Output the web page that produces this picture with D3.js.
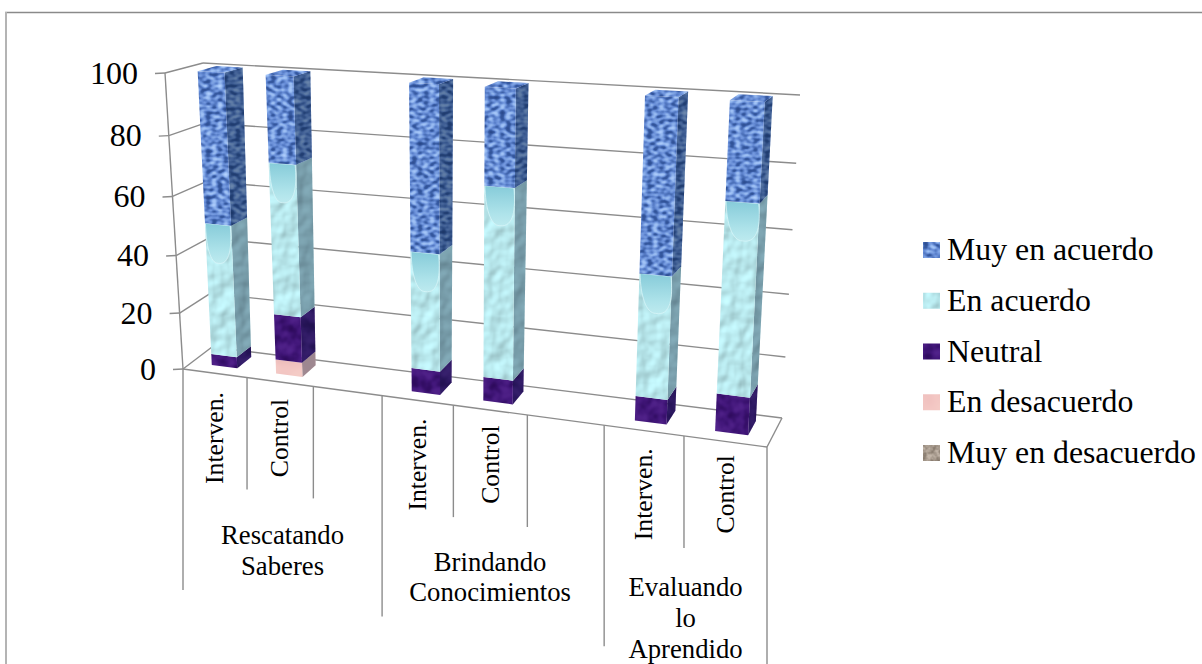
<!DOCTYPE html>
<html>
<head>
<meta charset="utf-8">
<script src="https://cdn.jsdelivr.net/npm/d3@7"></script>
<style>
  html, body { margin: 0; background: #fff; }
  svg { display: block; }
  text { font-family: "Liberation Serif", "Times New Roman", serif; fill: #000; }
</style>
</head>
<body>
<svg id="chart" width="1202" height="664"></svg>
<script>
const groupNames = [['Rescatando', 'Saberes'], ['Brindando', 'Conocimientos'], ['Evaluando', 'lo', 'Aprendido']]
const barNames = ['Interven.', 'Control']
const seriesNames = ['Muy en desacuerdo', 'En desacuerdo', 'Neutral', 'En acuerdo', 'Muy en acuerdo']

// one value per bar, in the order of the picture
const muyEnDesacuerdo = [0, 0, 0, 0, 0, 0]
const enDesacuerdo = [0, 5, 0, 0, 0, 0]
const neutral = [4, 16, 8, 8, 8, 12]
const enAcuerdo = [46, 51, 39, 62, 39, 59]
const muyEnAcuerdo = [50, 28, 53, 30, 53, 29]
const valueTicks = [0, 20, 40, 60, 80, 100]

const values = [muyEnDesacuerdo, enDesacuerdo, neutral, enAcuerdo, muyEnAcuerdo]
const rows = muyEnDesacuerdo.map((_, i) => {
  const row = { bar: i }
  seriesNames.forEach((s, k) => { row[s] = values[k][i] })
  return row
})
const stacked = d3.stack().keys(seriesNames)(rows)

const svg = d3.select('#chart')

// corners of the 3d box on the page: f = front, b = back, 0 = floor, 1 = top
const box = {
  f0l: [183, 369], f0r: [767, 447], f1l: [165, 73], f1r: [785, 107],
  b0l: [212, 347], b0r: [782, 418], b1l: [203, 63], b1r: [800, 95]
}
const persp = (t, k) => t / (1 + k * (1 - t))
const mix = (a, b, t) => [a[0] + (b[0] - a[0]) * t, a[1] + (b[1] - a[1]) * t]

const slots = groupNames.flatMap((g, i) => {
  const s = barNames.map(b => i + b)
  return i < groupNames.length - 1 ? s.concat(i + 'gap') : s
})
const x = d3.scaleBand().domain(slots).range([0, 1])
const y = d3.scaleLinear().domain([0, 100]).range([0, 1])

const project = (u, value, w) => {
  const su = persp(u, 0.16)
  const sv = persp(y(value), 0.073)
  const front = mix(mix(box.f0l, box.f0r, su), mix(box.f1l, box.f1r, su), sv)
  const back = mix(mix(box.b0l, box.b0r, su), mix(box.b1l, box.b1r, su), sv)
  return mix(front, back, w)
}

// textures
const defs = svg.append('defs')
const newFilter = id => defs.append('filter').attr('id', id)
  .attr('x', 0).attr('y', 0).attr('width', 1).attr('height', 1)
  .attr('color-interpolation-filters', 'sRGB')
const texture = (id, freq, seed, r, g, b, octaves) => {
  const f = newFilter(id)
  f.append('feTurbulence').attr('type', 'fractalNoise').attr('baseFrequency', freq)
    .attr('numOctaves', octaves).attr('seed', seed).attr('result', 'n')
  f.append('feColorMatrix').attr('in', 'n').attr('type', 'matrix')
    .attr('values', '1 0 0 0 0  1 0 0 0 0  1 0 0 0 0  0 0 0 0 1')
  const t = f.append('feComponentTransfer')
  t.append('feFuncR').attr('type', 'table').attr('tableValues', r)
  t.append('feFuncG').attr('type', 'table').attr('tableValues', g)
  t.append('feFuncB').attr('type', 'table').attr('tableValues', b)
  f.append('feComposite').attr('operator', 'in').attr('in2', 'SourceAlpha')
}
texture('tex-blue', '0.17 0.26', 4, '.14 .16 .22 .4 .58 .7 .74', '.25 .28 .36 .55 .72 .82 .86', '.5 .54 .64 .84 .94 1 1', 1)
texture('tex-purple', '0.09', 11, '.16 .18 .21 .26 .3 .32 .34', '.03 .04 .06 .09 .12 .14 .15', '.33 .36 .41 .48 .52 .55 .56', 2)
texture('tex-pink', '0.06', 2, '.9 .92 .93 .95 .96 .96 .96', '.72 .73 .75 .77 .8 .8 .8', '.72 .73 .74 .76 .78 .78 .78', 1)
texture('tex-brown', '0.22', 5, '.48 .52 .58 .66 .74 .8 .82', '.43 .47 .53 .61 .69 .75 .77', '.38 .42 .48 .56 .64 .7 .72', 2)

// aqua looks embossed with dimples, so it gets lit instead of colour mapped
const aqua = newFilter('tex-aqua')
aqua.append('feTurbulence').attr('type', 'fractalNoise').attr('baseFrequency', '0.07 0.06')
  .attr('numOctaves', 2).attr('seed', 7).attr('result', 'n')
const light = aqua.append('feDiffuseLighting').attr('in', 'n').attr('surfaceScale', 1.6)
  .attr('diffuseConstant', 1.1).attr('lighting-color', '#bdeef3')
light.append('feDistantLight').attr('azimuth', 235).attr('elevation', 62)
aqua.append('feComposite').attr('operator', 'in').attr('in2', 'SourceAlpha')

const seriesTex = {
  'Muy en desacuerdo': 'tex-brown', 'En desacuerdo': 'tex-pink', 'Neutral': 'tex-purple',
  'En acuerdo': 'tex-aqua', 'Muy en acuerdo': 'tex-blue'
}

const grad = defs.append('linearGradient').attr('id', 'arch')
  .attr('x1', 0).attr('y1', 0).attr('x2', 0).attr('y2', 1)
grad.append('stop').attr('offset', 0).attr('stop-color', '#86cbd9')
grad.append('stop').attr('offset', 0.7).attr('stop-color', '#aee3ea')
grad.append('stop').attr('offset', 1).attr('stop-color', '#bdeaef')

// frame: only the top and the left side are inside the crop
const frame = svg.append('g').attr('fill', 'none')
frame.append('line').attr('x1', 5).attr('x2', 1202).attr('y1', 12.5).attr('y2', 12.5)
  .attr('stroke', '#8a8a8a').attr('stroke-width', 1.3)
frame.append('line').attr('x1', 6).attr('x2', 6).attr('y1', 12).attr('y2', 664)
  .attr('stroke', '#b4b4b4').attr('stroke-width', 2)

const grey = '#8c8c8c'
const wall = svg.append('g').attr('stroke', grey).attr('stroke-width', 1.4).attr('fill', 'none')
const seg = (g, a, b) => g.append('line').attr('x1', a[0]).attr('y1', a[1]).attr('x2', b[0]).attr('y2', b[1])

// gridlines on both walls, ticks on the front left corner
valueTicks.forEach(t => {
  const a = project(0, t, 0), b = project(0, t, 1), c = project(1, t, 1)
  seg(wall, a, b)
  seg(wall, b, c)
  seg(wall, [a[0] - 10, a[1] + 0.5], a)
  svg.append('text').attr('x', a[0] - 27).attr('y', a[1]).attr('dy', '0.34em')
    .attr('text-anchor', 'end').style('font-size', '32px').text(t)
})
seg(wall, project(0, 0, 0), project(0, 100, 0))
seg(wall, project(0, 0, 0), project(1, 0, 0))
seg(wall, project(1, 0, 0), project(1, 0, 1))

// category dividers and labels
const level1 = 112, level2 = 221
const slotEdge = i => i / slots.length
slots.forEach((s, i) => {
  const p = project(slotEdge(i), 0, 0)
  const isGroupEdge = s.endsWith(barNames[0])
  seg(wall, p, [p[0], p[1] + (isGroupEdge ? level2 : level1)])
})
{
  const p = project(1, 0, 0)
  seg(wall, p, [p[0], p[1] + level2])
}

groupNames.forEach((lines, i) => {
  const first = project(x(i + barNames[0]), 0, 0)
  const last = i < groupNames.length - 1 ? project(x(i + 'gap') + x.bandwidth(), 0, 0) : project(1, 0, 0)
  barNames.forEach(b => {
    const c = project(x(i + b) + x.bandwidth() / 2, 0, 0)
    svg.append('text')
      .attr('transform', `translate(${c[0] + 8.5},${first[1] + 69}) rotate(-90)`)
      .attr('text-anchor', 'middle').style('font-size', '25.7px').text(b)
  })
  const cx = (first[0] + last[0]) / 2 - (lines.length === 2 && i === 1 ? 3 : 0)
  const top = first[1] + 166 - (lines.length - 2) * 4
  lines.forEach((l, k) => {
    svg.append('text').attr('x', cx).attr('y', top + k * 30.7).attr('dy', '0.34em')
      .attr('text-anchor', 'middle').style('font-size', '26.7px').text(l)
  })
})

// bars
const slotOfBar = groupNames.flatMap((g, i) => barNames.map(b => i + b))
const barFrom = 0.32, barTo = 0.72, depthFrom = 0.3, depthTo = 0.8
const poly = pts => 'M' + pts.map(p => p.join(',')).join('L') + 'Z'

const barsG = svg.append('g')
slotOfBar.forEach((slot, i) => {
  const u0 = x(slot) + x.bandwidth() * barFrom
  const u1 = x(slot) + x.bandwidth() * barTo
  const g = barsG.append('g')
  stacked.forEach(layer => {
    const [v0, v1] = layer[i]
    if (v1 - v0 <= 0) return
    const tex = seriesTex[layer.key]
    const front = poly([project(u0, v0, depthFrom), project(u1, v0, depthFrom), project(u1, v1, depthFrom), project(u0, v1, depthFrom)])
    const side = poly([project(u1, v0, depthFrom), project(u1, v0, depthTo), project(u1, v1, depthTo), project(u1, v1, depthFrom)])
    g.append('path').attr('d', side).attr('fill', '#000').attr('filter', `url(#${tex})`)
    g.append('path').attr('d', side).attr('fill', '#0a1f3a').attr('opacity', layer.key === 'Muy en acuerdo' ? 0.42 : 0.36)
    g.append('path').attr('d', front).attr('fill', '#000').attr('filter', `url(#${tex})`)
    if (layer.key === 'En acuerdo') {
      // the big bubble at the head of the aqua segment
      const tl = project(u0, v1, depthFrom), tr = project(u1, v1, depthFrom)
      const w = tr[0] - tl[0]
      const arch = d3.path()
      arch.moveTo(tl[0] + w * 0.02, tl[1])
      arch.lineTo(tr[0] - 1, tr[1])
      arch.bezierCurveTo(tr[0] + 1, tr[1] + 20, tr[0] - 1, tr[1] + 40, tl[0] + w * 0.5, tl[1] + 40)
      arch.bezierCurveTo(tl[0] + w * 0.2, tl[1] + 40, tl[0] + 1, tl[1] + 22, tl[0] + w * 0.02, tl[1])
      arch.closePath()
      g.append('path').attr('d', arch.toString()).attr('fill', 'url(#arch)')
        .attr('stroke', '#dcf7f9').attr('stroke-width', 1).attr('stroke-opacity', 0.7)
    }
    if (v1 >= 100) {
      const lid = poly([project(u0, v1, depthFrom), project(u1, v1, depthFrom), project(u1, v1, depthTo), project(u0, v1, depthTo)])
      g.append('path').attr('d', lid).attr('fill', '#000').attr('filter', `url(#${tex})`)
    }
  })
})

// legend
const legendItems = seriesNames.slice().reverse()
const legendY = d3.scalePoint().domain(legendItems).range([250, 453])
const legend = svg.append('g')
legendItems.forEach(name => {
  legend.append('rect').attr('x', 923).attr('y', legendY(name) - 8).attr('width', 17).attr('height', 16)
    .attr('fill', '#000').attr('filter', `url(#${seriesTex[name]})`)
  legend.append('text').attr('x', 947).attr('y', legendY(name)).attr('dy', '0.32em')
    .style('font-size', '31.8px').text(name)
})
</script>
</body>
</html>
